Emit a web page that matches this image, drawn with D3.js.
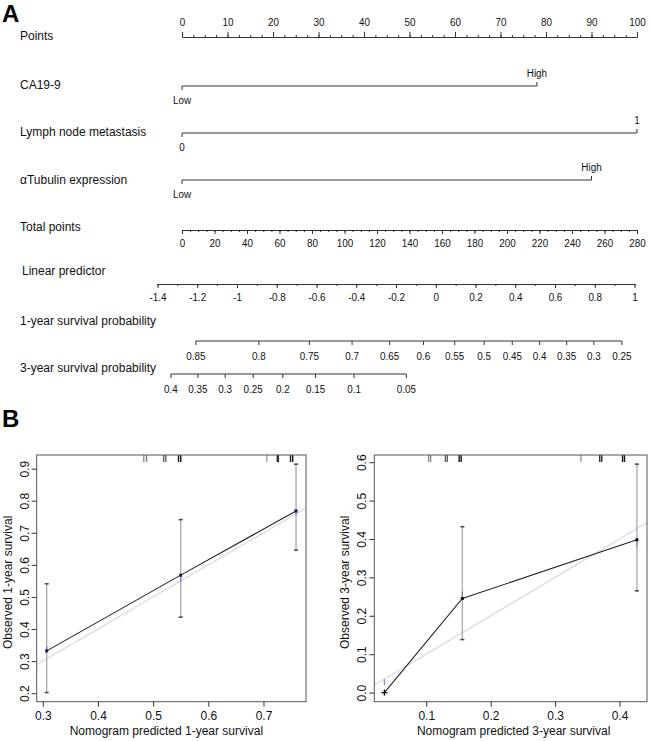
<!DOCTYPE html>
<html><head><meta charset="utf-8">
<script src="https://cdn.jsdelivr.net/npm/d3@7"></script>
<style>
body{margin:0;background:#fff;}
svg{display:block;background:#fff;}
.lab{font-family:"Liberation Sans",Arial,sans-serif;font-size:12px;fill:#111;}
.nar{font-family:"Liberation Sans",Arial,sans-serif;font-size:11.5px;fill:#111;}
.big{font-family:"Liberation Sans",Arial,sans-serif;font-weight:bold;fill:#000;}
</style></head><body>
<svg id="c" width="650" height="741"></svg>
<script>
// ---------------- DATA ----------------
const rowLabels = ["Points", "CA19-9", "Lymph node metastasis", "αTubulin expression",
  "Total points", "Linear predictor", "1-year survival probability", "3-year survival probability"];
const pointsTicks = d3.range(0, 101, 10);
const pointsMinor = d3.range(0, 100.01, 2.5);
const varLevels = [["Low", "High"], ["0", "1"], ["Low", "High"]];
const varPoints = [[0, 78], [0, 100], [0, 90]];
const totalTicks = d3.range(0, 281, 20);
const totalMinor = d3.range(0, 281, 5);
const lpTicks = [-1.4, -1.2, -1, -0.8, -0.6, -0.4, -0.2, 0, 0.2, 0.4, 0.6, 0.8, 1];
const lpMinor = d3.range(-14, 11, 1).map(d => d / 10);
const surv1Ticks = [0.85, 0.8, 0.75, 0.7, 0.65, 0.6, 0.55, 0.5, 0.45, 0.4, 0.35, 0.3, 0.25];
const surv3Ticks = [0.4, 0.35, 0.3, 0.25, 0.2, 0.15, 0.1, 0.05];
const baseSurv1 = 0.5808;   // baseline 1-year survival (lp = 0)
const baseSurv3 = 0.0310;   // baseline 3-year survival (lp = 0)

// calibration, 1-year
const cal1Pred = [0.307, 0.550, 0.759];
const cal1Obs  = [0.332, 0.568, 0.768];
const cal1Lo   = [0.202, 0.437, 0.646];
const cal1Hi   = [0.541, 0.741, 0.914];
const cal1Corr = [0.337, 0.556, 0.764];
const cal1Rug  = [0.483, 0.488, 0.519, 0.523, 0.546, 0.550, 0.706, 0.725, 0.727, 0.749, 0.753];
const cal1RugShade = [0.35, 0.45, 0.6, 0.6, 0.9, 0.9, 0.3, 0.8, 0.8, 0.9, 0.9];
const cal1XTicks = [0.3, 0.4, 0.5, 0.6, 0.7];
const cal1YTicks = [0.2, 0.3, 0.4, 0.5, 0.6, 0.7, 0.8, 0.9];
// calibration, 3-year
const cal3Pred = [0.035, 0.156, 0.427];
const cal3Obs  = [0.000, 0.245, 0.398];
const cal3Lo   = [null, 0.138, 0.265];
const cal3Hi   = [null, 0.432, 0.595];
const cal3Corr = [0.027, 0.256, 0.387];
const cal3Rug  = [0.1035, 0.1066, 0.1297, 0.1327, 0.1511, 0.1542, 0.3401, 0.3693, 0.3724, 0.4047, 0.4077];
const cal3RugShade = [0.35, 0.45, 0.6, 0.6, 0.9, 0.9, 0.3, 0.8, 0.8, 0.9, 0.9];
const cal3XTicks = [0.1, 0.2, 0.3, 0.4];
const cal3YTicks = [0, 0.1, 0.2, 0.3, 0.4, 0.5, 0.6];

// ---------------- DRAW ----------------
const svg = d3.select("#c");
const lineInk = "#333";
const NARROW = "scale(0.86,1)";

function styleAxis(g, cls) {
  g.select(".domain").attr("stroke", lineInk).attr("stroke-width", 1);
  g.selectAll(".tick line").attr("stroke", lineInk).attr("stroke-width", 1);
  g.selectAll(".tick text").attr("class", cls).attr("font-size", null).attr("font-family", null).attr("fill", null);
  if (cls === "nar") g.selectAll(".tick text").attr("transform", NARROW);
  g.attr("font-size", null).attr("font-family", null);
}
function narText(parent, x, y, t) {
  parent.append("g").attr("transform", `translate(${x},${y})`)
    .append("text").attr("class", "nar").attr("text-anchor", "middle").attr("dy", "0.35em")
    .attr("transform", NARROW).text(t);
}

// ---- Panel A ----
svg.append("text").attr("class", "big").attr("x", 2).attr("y", 22).attr("font-size", 24).text("A");

const axisY  = [37, 86, 133, 180, 230, 284, 341, 374];
const labelY = [36, 85, 132, 180, 227, 271, 321, 368];
const labX   = [20, 20, 20, 20, 20, 22, 20, 20];
rowLabels.forEach((t, i) => {
  svg.append("text").attr("class", "lab").attr("x", labX[i]).attr("y", labelY[i])
    .attr("dy", "0.35em").text(t);
});

const ptsX = d3.scaleLinear().domain([0, 100]).range([182, 637]);
const totX = d3.scaleLinear().domain([0, 280]).range([182, 637]);
const lpX  = d3.scaleLinear().domain([-1.4, 1]).range([157.5, 634.5]);
const survLP = (s, s0) => Math.log(Math.log(s) / Math.log(s0));

// Points axis
{
  const gm = svg.append("g").attr("transform", `translate(0,${axisY[0]})`)
    .call(d3.axisTop(ptsX).tickValues(pointsMinor).tickSize(2).tickSizeOuter(0).tickFormat(""));
  styleAxis(gm, "nar");
  const g = svg.append("g").attr("transform", `translate(0,${axisY[0]})`)
    .call(d3.axisTop(ptsX).tickValues(pointsTicks).tickSize(5).tickSizeOuter(0).tickPadding(6).tickFormat(d => String(d)));
  styleAxis(g, "nar");
}

// categorical variables
varPoints.forEach((pts, i) => {
  const y = axisY[i + 1];
  const g = svg.append("g");
  const x0 = ptsX(pts[0]), x1 = ptsX(pts[1]);
  g.append("line").attr("x1", x0).attr("x2", x1).attr("y1", y).attr("y2", y).attr("stroke", lineInk);
  g.append("line").attr("x1", x0).attr("x2", x0).attr("y1", y).attr("y2", y + 4).attr("stroke", lineInk);
  g.append("line").attr("x1", x1).attr("x2", x1).attr("y1", y).attr("y2", y - 4).attr("stroke", lineInk);
  narText(g, x0, y + 13.5, varLevels[i][0]);
  narText(g, x1, y - 13, varLevels[i][1]);
});

// Total points axis
{
  const gm = svg.append("g").attr("transform", `translate(0,${axisY[4]})`)
    .call(d3.axisBottom(totX).tickValues(totalMinor).tickSize(2).tickSizeOuter(0).tickFormat(""));
  styleAxis(gm, "nar");
  const g = svg.append("g").attr("transform", `translate(0,${axisY[4]})`)
    .call(d3.axisBottom(totX).tickValues(totalTicks).tickSize(4).tickSizeOuter(0).tickPadding(5).tickFormat(d => String(d)));
  styleAxis(g, "nar");
}

// Linear predictor axis
{
  const gm = svg.append("g").attr("transform", `translate(0,${axisY[5]})`)
    .call(d3.axisBottom(lpX).tickValues(lpMinor).tickSize(2).tickSizeOuter(0).tickFormat(""));
  styleAxis(gm, "nar");
  const g = svg.append("g").attr("transform", `translate(0,${axisY[5]})`)
    .call(d3.axisBottom(lpX).tickValues(lpTicks).tickSize(4).tickSizeOuter(0).tickPadding(5).tickFormat(d => String(d)));
  styleAxis(g, "nar");
}

// survival axes (position through linear predictor scale)
function survAxis(ticks, s0, y) {
  const pos = s => lpX(survLP(s, s0));
  const g = svg.append("g");
  g.append("line").attr("x1", pos(ticks[0])).attr("x2", pos(ticks[ticks.length - 1]))
    .attr("y1", y).attr("y2", y).attr("stroke", lineInk);
  const t = g.selectAll("g.t").data(ticks).join("g").attr("class", "t")
    .attr("transform", d => `translate(${pos(d)},${y})`);
  t.append("line").attr("y2", 4).attr("stroke", lineInk);
  t.append("text").attr("class", "nar").attr("y", 14.5).attr("dy", "0.35em").attr("text-anchor", "middle")
    .attr("transform", NARROW).text(d => String(d));
}
survAxis(surv1Ticks, baseSurv1, axisY[6]);
survAxis(surv3Ticks, baseSurv3, axisY[7]);

// ---- Panel B ----
svg.append("text").attr("class", "big").attr("x", 2).attr("y", 427).attr("font-size", 24).text("B");

const boxTop = 455, boxBot = 701.7;
function padExt(arr) {
  const e = d3.extent(arr.filter(v => v != null));
  const p = (e[1] - e[0]) * 0.04;
  return [e[0] - p, e[1] + p];
}

function calPanel(o) {
  const x = d3.scaleLinear().domain(padExt(o.pred)).range([o.left, o.right]);
  const y = d3.scaleLinear().domain(padExt([...o.obs, ...o.lo, ...o.hi])).range([boxBot, boxTop]);
  const g = svg.append("g");
  const clipId = "clip" + o.id;
  g.append("clipPath").attr("id", clipId).append("rect")
    .attr("x", o.left).attr("y", boxTop).attr("width", o.right - o.left).attr("height", boxBot - boxTop);

  // ideal line
  const dom = x.domain();
  g.append("line").attr("clip-path", `url(#${clipId})`)
    .attr("x1", x(dom[0])).attr("y1", y(dom[0])).attr("x2", x(dom[1])).attr("y2", y(dom[1]))
    .attr("stroke", "#e0e0e0").attr("stroke-width", 1.6);

  // rug (distribution of predictions)
  g.selectAll("line.rug").data(o.rug).join("line").attr("class", "rug")
    .attr("x1", d => x(d)).attr("x2", d => x(d)).attr("y1", boxTop).attr("y2", boxTop + 7)
    .attr("stroke", (d, i) => d3.interpolateGreys(0.25 + 0.75 * o.rugShade[i])).attr("stroke-width", 1.4);

  // error bars
  const idx = d3.range(o.pred.length).filter(i => o.lo[i] != null);
  g.selectAll("line.eb").data(idx).join("line").attr("class", "eb")
    .attr("x1", i => x(o.pred[i])).attr("x2", i => x(o.pred[i]))
    .attr("y1", i => y(o.lo[i])).attr("y2", i => y(o.hi[i]))
    .attr("stroke", "#a8a8a8").attr("stroke-width", 1.3);
  ["lo", "hi"].forEach(k => {
    g.selectAll("line.cap" + k).data(idx).join("line").attr("class", "cap" + k)
      .attr("x1", i => x(o.pred[i]) - 2).attr("x2", i => x(o.pred[i]) + 2)
      .attr("y1", i => y(o[k][i])).attr("y2", i => y(o[k][i]))
      .attr("stroke", "#444").attr("stroke-width", 1.5);
  });

  // observed line
  g.append("path").datum(d3.range(o.pred.length))
    .attr("d", d3.line().x(i => x(o.pred[i])).y(i => y(o.obs[i])))
    .attr("fill", "none").attr("stroke", "#222").attr("stroke-width", 1.1);

  // bias-corrected marks (blue)
  g.selectAll("line.bc").data(d3.range(o.pred.length)).join("line").attr("class", "bc")
    .attr("x1", i => x(o.pred[i])).attr("x2", i => x(o.pred[i]))
    .attr("y1", i => y(o.corr[i]) - 3).attr("y2", i => y(o.corr[i]) + 3)
    .attr("stroke", "#7070e0").attr("stroke-width", 1.3).attr("opacity", 0.8);

  // observed points
  d3.range(o.pred.length).forEach(i => {
    const px = x(o.pred[i]), py = y(o.obs[i]);
    if (o.cross && i === 0) {
      g.append("path").attr("d", `M${px - 3},${py}H${px + 3}M${px},${py - 3}V${py + 3}`)
        .attr("stroke", "#000").attr("stroke-width", 1.3);
    } else {
      g.append("rect").attr("x", px - 1.5).attr("y", py - 1.5).attr("width", 3).attr("height", 3)
        .attr("fill", o.ptFill);
    }
  });

  // box
  g.append("rect").attr("x", o.left).attr("y", boxTop).attr("width", o.right - o.left)
    .attr("height", boxBot - boxTop).attr("fill", "none").attr("stroke", "#555").attr("stroke-width", 1);

  // axes
  const gx = g.append("g").attr("transform", `translate(0,${boxBot})`)
    .call(d3.axisBottom(x).tickValues(o.xTicks).tickSize(5).tickSizeOuter(0).tickPadding(5)
      .tickFormat(d3.format(".1f")));
  styleAxis(gx, "lab");
  gx.select(".domain").remove();
  const gy = g.append("g").attr("transform", `translate(${o.left},0)`)
    .call(d3.axisLeft(y).tickValues(o.yTicks).tickSize(5).tickSizeOuter(0).tickFormat(d3.format(".1f")));
  styleAxis(gy, "lab");
  gy.select(".domain").remove();
  gy.selectAll(".tick text").attr("x", null).attr("dy", null).attr("text-anchor", "middle")
    .attr("transform", "translate(-8,0) rotate(-90)");

  // titles
  g.append("text").attr("class", "lab").attr("text-anchor", "middle")
    .attr("x", (o.left + o.right) / 2 + o.titleShift).attr("y", 735).text(o.xTitle);
  g.append("text").attr("class", "lab").attr("text-anchor", "middle")
    .attr("transform", `translate(${o.left - 25},${(boxTop + boxBot) / 2 + 4}) rotate(-90)`).text(o.yTitle);
}

calPanel({
  id: 1, left: 36.7, right: 306, pred: cal1Pred, obs: cal1Obs, lo: cal1Lo, hi: cal1Hi, corr: cal1Corr,
  rug: cal1Rug, rugShade: cal1RugShade, xTicks: cal1XTicks, yTicks: cal1YTicks, ptFill: "#1a1a55",
  xTitle: "Nomogram predicted 1-year survival", yTitle: "Observed 1-year survival", cross: false, titleShift: -5
});
calPanel({
  id: 3, left: 374.3, right: 647, pred: cal3Pred, obs: cal3Obs, lo: cal3Lo, hi: cal3Hi, corr: cal3Corr,
  rug: cal3Rug, rugShade: cal3RugShade, xTicks: cal3XTicks, yTicks: cal3YTicks, ptFill: "#111",
  xTitle: "Nomogram predicted 3-year survival", yTitle: "Observed 3-year survival", cross: true, titleShift: 3
});
</script>
</body></html>
